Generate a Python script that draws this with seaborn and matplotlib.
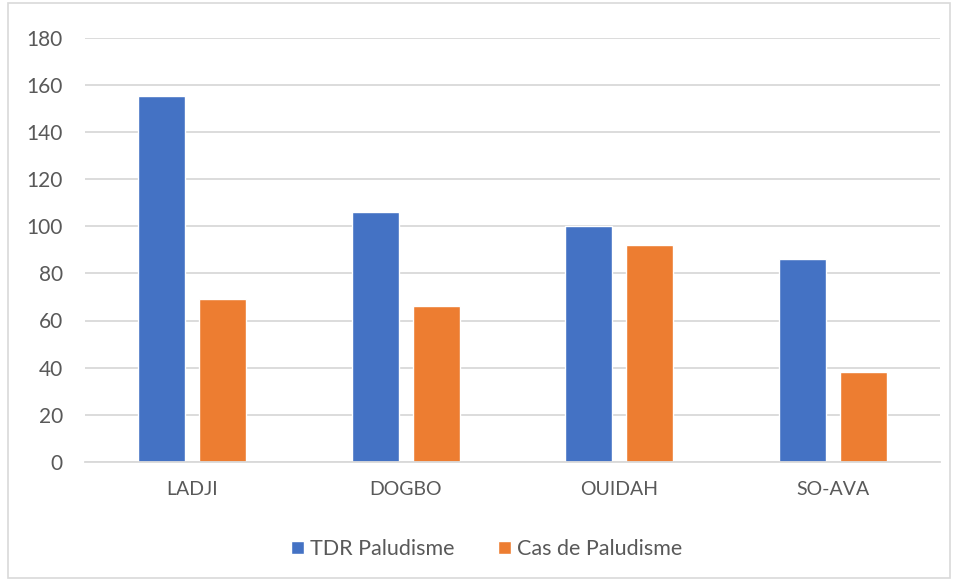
import pandas as pd
import matplotlib
matplotlib.use("Agg")
import matplotlib.pyplot as plt
import seaborn as sns
from matplotlib.patches import Rectangle

communes = ["LADJI", "DOGBO", "OUIDAH", "SO-AVA"]
tdr_paludisme = [155, 106, 100, 86]
cas_paludisme = [69, 66, 92, 38]
series_names = ["TDR Paludisme", "Cas de Paludisme"]
y_ticks = [0, 20, 40, 60, 80, 100, 120, 140, 160, 180]

df = pd.DataFrame({
    "commune": communes * 2,
    "serie": [series_names[0]] * len(communes) + [series_names[1]] * len(communes),
    "valeur": tdr_paludisme + cas_paludisme,
})

sns.set_theme(style="white")
plt.rcParams["font.family"] = ["Lato", "DejaVu Sans"]

W, H = 958, 581
fig = plt.figure(figsize=(W / 100, H / 100), dpi=100)
ax = fig.add_axes([85 / W, 1 - 462 / H, (940 - 85) / W, (462 - 37.5) / H])

sns.barplot(data=df, x="commune", y="valeur", hue="serie", order=communes,
            hue_order=series_names, palette=["#4472C4", "#ED7D31"],
            width=0.571, gap=0.23, ax=ax, saturation=1, legend=True)

ax.set_ylim(0, 180)
ax.set_yticks(y_ticks)
ax.set_xlim(-0.5, len(communes) - 0.5)
ax.yaxis.grid(True, color="#d9d9d9", linewidth=1.3)
ax.set_axisbelow(True)
for side in ["top", "right", "left"]:
    ax.spines[side].set_visible(False)
ax.spines["bottom"].set_color("#d9d9d9")
ax.spines["bottom"].set_linewidth(1.3)
ax.set_xlabel("")
ax.set_ylabel("")
ax.tick_params(axis="y", length=0, labelsize=15, colors="#595959", pad=16)
ax.tick_params(axis="x", length=0, labelsize=14, colors="#595959", pad=14)

ax.legend(loc="center", bbox_to_anchor=(0.47, -0.205), ncol=2, frameon=False,
          fontsize=15.5, labelcolor="#595959", handlelength=0.6, handleheight=0.6,
          handletextpad=0.3, columnspacing=2.0)

# cadre du graphique
fig.patches.append(Rectangle((8 / W, 3 / H), (950 - 8) / W, (H - 6) / H,
                             transform=fig.transFigure, fill=False,
                             edgecolor="#d9d9d9", linewidth=1.2))

fig.savefig("out.png", dpi=100)
